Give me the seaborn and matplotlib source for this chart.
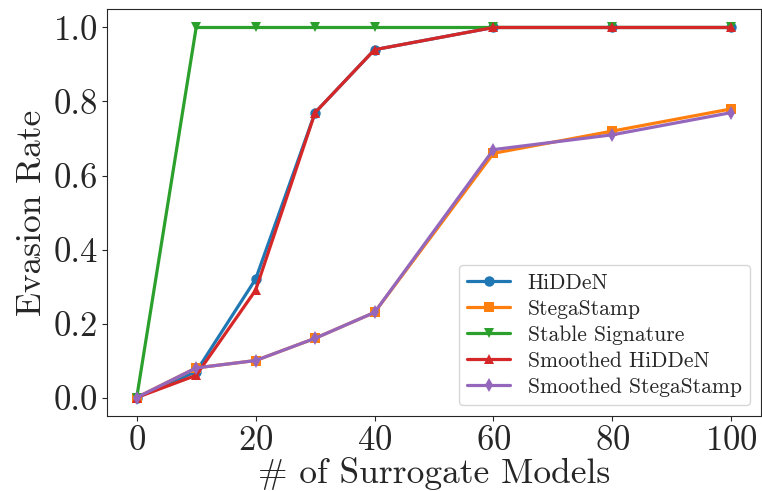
import matplotlib
matplotlib.use("Agg")
import matplotlib.pyplot as plt
import seaborn as sns
import pandas as pd

num_models = [0, 10, 20, 30, 40, 60, 80, 100]
hidden = [0.0, 0.07, 0.32, 0.77, 0.94, 1.0, 1.0, 1.0]
stegastamp = [0.0, 0.08, 0.10, 0.16, 0.23, 0.66, 0.72, 0.78]
stable_sig = [0.0, 1.0, 1.0, 1.0, 1.0, 1.0, 1.0, 1.0]
smoothed_hidden = [0.0, 0.06, 0.29, 0.77, 0.94, 1.0, 1.0, 1.0]
smoothed_stega = [0.0, 0.08, 0.10, 0.16, 0.23, 0.67, 0.71, 0.77]

methods = ["HiDDeN", "StegaStamp", "Stable Signature",
           "Smoothed HiDDeN", "Smoothed StegaStamp"]
series = [hidden, stegastamp, stable_sig, smoothed_hidden, smoothed_stega]
markers = ["o", "s", "v", "^", "d"]

rows = []
for name, vals in zip(methods, series):
    for x, y in zip(num_models, vals):
        rows.append({"models": x, "rate": y, "method": name})
df = pd.DataFrame(rows)

sns.set_style("ticks")
plt.rcParams["font.family"] = ["cmr10", "DejaVu Serif"]
plt.rcParams["mathtext.fontset"] = "cm"
plt.rcParams["axes.formatter.use_mathtext"] = True

fig = plt.figure(figsize=(7.62, 4.91), dpi=100)
ax = fig.add_axes([0.1404, 0.1527, 0.8583, 0.829])

sns.lineplot(data=df, x="models", y="rate", hue="method", style="method",
             markers=markers, dashes=False, palette="tab10",
             linewidth=2.3, markersize=7.5, markeredgewidth=0, ax=ax)

ax.set_xticks([0, 20, 40, 60, 80, 100])
ax.set_yticks([0.0, 0.2, 0.4, 0.6, 0.8, 1.0])
ax.set_yticklabels(["0.0", "0.2", "0.4", "0.6", "0.8", "1.0"])
ax.tick_params(labelsize=25, pad=3)
ax.set_xlabel("# of Surrogate Models", fontsize=25.5, labelpad=0)
ax.set_ylabel("Evasion Rate", fontsize=25.5, labelpad=4)
ax.legend(loc="lower right", fontsize=15.5, title=None,
          handlelength=2, framealpha=0.8, borderaxespad=0.5,
          labelspacing=0.3)

fig.savefig("out.png", dpi=100)
